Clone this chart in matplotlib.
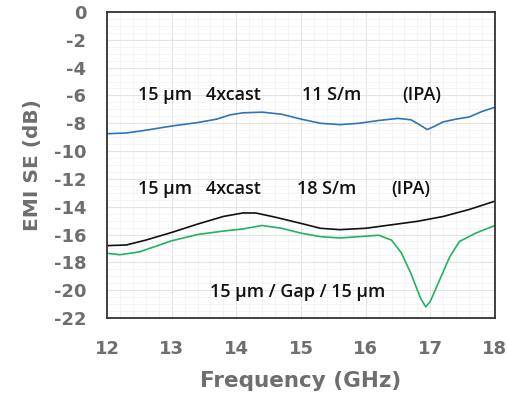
import matplotlib
matplotlib.use("Agg")
import matplotlib.pyplot as plt
from matplotlib.ticker import MultipleLocator

plt.rcParams["axes.unicode_minus"] = False

freq_11 = [12.0, 12.3, 12.6, 13.0, 13.4, 13.7, 13.9, 14.1, 14.4, 14.7, 15.0, 15.3, 15.6, 15.9,
           16.2, 16.5, 16.7, 16.85, 16.95, 17.05, 17.2, 17.4, 17.6, 17.8, 18.0]
se_11 = [-8.75, -8.7, -8.5, -8.2, -7.95, -7.7, -7.4, -7.25, -7.2, -7.35, -7.7, -8.0, -8.1, -8.0,
         -7.8, -7.65, -7.75, -8.15, -8.45, -8.25, -7.9, -7.7, -7.55, -7.15, -6.85]

freq_18 = [12.0, 12.3, 12.6, 13.0, 13.4, 13.8, 14.1, 14.3, 14.6, 15.0, 15.3, 15.6, 16.0, 16.4,
           16.8, 17.2, 17.6, 18.0]
se_18 = [-16.8, -16.75, -16.4, -15.85, -15.25, -14.7, -14.45, -14.45, -14.75, -15.2, -15.55,
         -15.65, -15.55, -15.3, -15.05, -14.7, -14.2, -13.6]

freq_gap = [12.0, 12.2, 12.5, 13.0, 13.4, 13.8, 14.1, 14.4, 14.7, 15.0, 15.3, 15.6, 15.9, 16.2,
            16.4, 16.55, 16.7, 16.85, 16.93, 17.0, 17.15, 17.3, 17.45, 17.7, 18.0]
se_gap = [-17.35, -17.45, -17.25, -16.45, -16.0, -15.75, -15.6, -15.35, -15.55, -15.9, -16.15,
          -16.25, -16.15, -16.05, -16.4, -17.3, -18.8, -20.6, -21.2, -20.8, -19.2, -17.6, -16.5,
          -15.9, -15.35]

x_ticks = [12, 13, 14, 15, 16, 17, 18]
y_ticks = [0, -2, -4, -6, -8, -10, -12, -14, -16, -18, -20, -22]

fig = plt.figure(figsize=(5.08, 3.96), dpi=100)
ax = fig.add_axes([0.2106, 0.197, 0.9744 - 0.2106, 0.9697 - 0.197])

ax.plot(freq_11, se_11, color="#2e75b6", lw=1.2)
ax.plot(freq_18, se_18, color="#111111", lw=1.2)
ax.plot(freq_gap, se_gap, color="#22b35e", lw=1.2)

ax.set_xlim(12, 18)
ax.set_ylim(-22, 0)
ax.set_xticks(x_ticks)
ax.set_yticks(y_ticks)
ax.xaxis.set_minor_locator(MultipleLocator(0.2))
ax.yaxis.set_minor_locator(MultipleLocator(0.5))
ax.grid(which="major", color="#e4e4e4", lw=0.8)
ax.grid(which="minor", color="#f2f2f2", lw=0.6)
ax.set_axisbelow(True)

tick_color = "#6e6e6e"
ax.tick_params(which="both", length=0, labelsize=13, labelcolor=tick_color)
ax.tick_params(axis="y", pad=15)
ax.tick_params(axis="x", pad=16)
for lab in ax.get_xticklabels() + ax.get_yticklabels():
    lab.set_fontweight("bold")
    lab.set_family("DejaVu Sans")

for s in ax.spines.values():
    s.set_color("#333333")
    s.set_linewidth(1.3)

ax.set_xlabel("Frequency (GHz)", fontsize=15.5, fontweight="bold", color=tick_color, labelpad=9)
ax.set_ylabel("EMI SE (dB)", fontsize=14.5, fontweight="bold", color=tick_color, labelpad=8)

tkw = dict(fontsize=13, family="Open Sans", fontweight="semibold", color="#111111", va="center")
ax.text(12.48, -6.0, "15 µm   4xcast", **tkw)
ax.text(15.01, -6.0, "11 S/m", **tkw)
ax.text(16.56, -6.0, "(IPA)", **tkw)
ax.text(12.48, -12.7, "15 µm   4xcast", **tkw)
ax.text(14.94, -12.7, "18 S/m", **tkw)
ax.text(16.40, -12.7, "(IPA)", **tkw)
ax.text(13.6, -20.1, "15 µm / Gap / 15 µm", **tkw)

fig.savefig("out.png", dpi=100)
